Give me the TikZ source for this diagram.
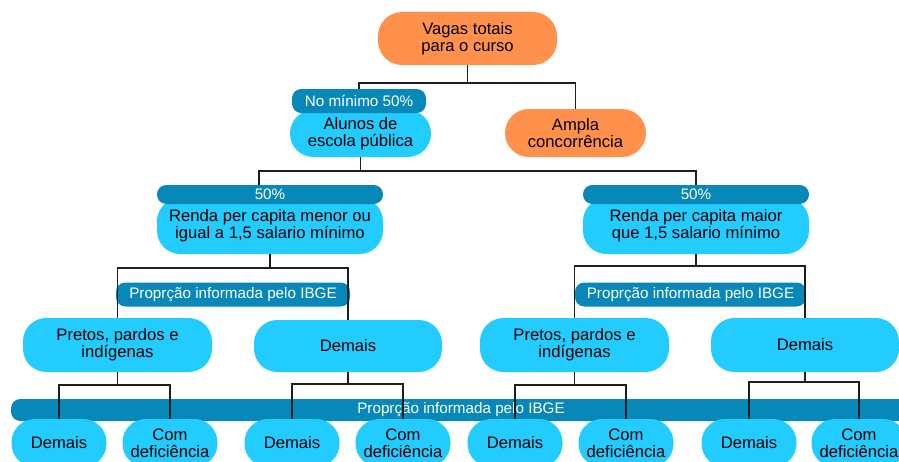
\documentclass[tikz,border=0pt]{standalone}
\usepackage{fontspec}
\setmainfont{Liberation Sans}
\usetikzlibrary{calc}
\definecolor{VagaOrange}{HTML}{FF914D}
\definecolor{SkyFill}{HTML}{22CCFF}
\definecolor{BarBlue}{HTML}{0788B8}
\definecolor{LinkGrey}{HTML}{1E1E1E}

\begin{document}
\begin{tikzpicture}[
    every node/.style={font=\fontsize{14.2}{14.6}\selectfont,align=center,inner sep=0pt},
    warm/.style={fill=VagaOrange,rounded corners=0.72cm},
    sky/.style={fill=SkyFill,rounded corners=0.7cm},
    bar/.style={fill=BarBlue,text=white,rounded corners=0.28cm,font=\fontsize{13}{13}\selectfont},
    link/.style={draw=LinkGrey,line width=1.3pt}
  ]
    \useasboundingbox (0,0) rectangle (26.97,-13.83);
    \clip (0,0) rectangle (26.97,-13.83);

    \node[warm,minimum width=5.37cm,minimum height=1.59cm] (vagas) at (14.025,-1.155) {Vagas totais\\para o curso};
    \node[sky,minimum width=4.23cm,minimum height=1.41cm] (alunos) at (10.815,-4.005) {Alunos de\\escola pública};
    \node[bar,minimum width=4.02cm,minimum height=0.72cm] (minimo) at (10.77,-3.03) {No mínimo 50\%};
    \node[warm,minimum width=4.23cm,minimum height=1.44cm] (ampla) at (17.265,-3.99) {Ampla\\concorrência};

    \node[sky,minimum width=6.78cm,minimum height=1.68cm] (renda1) at (8.1,-6.78) {Renda per capita menor ou\\igual a 1,5 salario mínimo};
    \node[bar,minimum width=6.78cm,minimum height=0.57cm] (cota1) at (8.1,-5.835) {50\%};
    \node[sky,minimum width=6.78cm,minimum height=1.68cm] (renda2) at (20.88,-6.78) {Renda per capita maior\\que 1,5 salario mínimo};
    \node[bar,minimum width=6.78cm,minimum height=0.57cm] (cota2) at (20.88,-5.835) {50\%};

    \node[bar,minimum width=7.02cm,minimum height=0.72cm] (ibge1) at (6.99,-8.835) {Proprção informada pelo IBGE};
    \node[bar,minimum width=6.93cm,minimum height=0.72cm] (ibge2) at (20.715,-8.835) {Proprção informada pelo IBGE};

    \node[sky,minimum width=5.67cm,minimum height=1.62cm] (pretos1) at (3.525,-10.35) {Pretos, pardos e\\indígenas};
    \node[sky,minimum width=5.64cm,minimum height=1.56cm] (demais1) at (10.44,-10.38) {Demais};
    \node[sky,minimum width=5.67cm,minimum height=1.62cm] (pretos2) at (17.235,-10.35) {Pretos, pardos e\\indígenas};
    \node[sky,minimum width=5.64cm,minimum height=1.62cm] (demais2) at (24.15,-10.35) {Demais};

    \node[bar,minimum width=27cm,minimum height=0.66cm] (ibge3) at (13.83,-12.3) {Proprção informada pelo IBGE};

    \node[sky,minimum width=2.85cm,minimum height=1.44cm] (pp1dem) at (1.77,-13.29) {Demais};
    \node[sky,minimum width=2.85cm,minimum height=1.44cm] (pp1def) at (5.1,-13.29) {Com\\deficiência};
    \node[sky,minimum width=2.85cm,minimum height=1.44cm] (ot1dem) at (8.76,-13.29) {Demais};
    \node[sky,minimum width=2.85cm,minimum height=1.44cm] (ot1def) at (12.09,-13.29) {Com\\deficiência};
    \node[sky,minimum width=2.85cm,minimum height=1.44cm] (pp2dem) at (15.45,-13.29) {Demais};
    \node[sky,minimum width=2.85cm,minimum height=1.44cm] (pp2def) at (18.78,-13.29) {Com\\deficiência};
    \node[sky,minimum width=2.85cm,minimum height=1.44cm] (ot2dem) at (22.47,-13.29) {Demais};
    \node[sky,minimum width=2.85cm,minimum height=1.44cm] (ot2def) at (25.77,-13.29) {Com\\deficiência};

    % ligacoes
    \draw[link] (vagas.south) -- ++(0,-0.54) coordinate (j0);
    \draw[link] (minimo.north) |- (j0) -| (ampla.north);
    \draw[link] (alunos.south) -- ++(0,-0.42) coordinate (j1);
    \draw[link] ([xshift=-0.33cm]cota1.north) |- (j1) -| (cota2.north);
    \draw[link] (renda1.south) -- ++(0,-0.42) coordinate (j2);
    \draw[link] (pretos1.north) |- (j2) -| (demais1.north);
    \draw[link] (renda2.south) -- ++(0,-0.36) coordinate (j3);
    \draw[link] (pretos2.north) |- (j3) -| (demais2.north);
    \draw[link] (pretos1.south) -- ++(0,-0.39) coordinate (j4);
    \draw[link] (pp1dem.north) |- (j4) -| (pp1def.north);
    \draw[link] (demais1.south) -- ++(0,-0.36) coordinate (j5);
    \draw[link] (ot1dem.north) |- (j5) -| (ot1def.north);
    \draw[link] (pretos2.south) -- ++(0,-0.39) coordinate (j6);
    \draw[link] (pp2dem.north) |- (j6) -| (pp2def.north);
    \draw[link] (demais2.south) -- ++(0,-0.3) coordinate (j7);
    \draw[link] (ot2dem.north) |- (j7) -| (ot2def.north);
  \end{tikzpicture}
\end{document}
